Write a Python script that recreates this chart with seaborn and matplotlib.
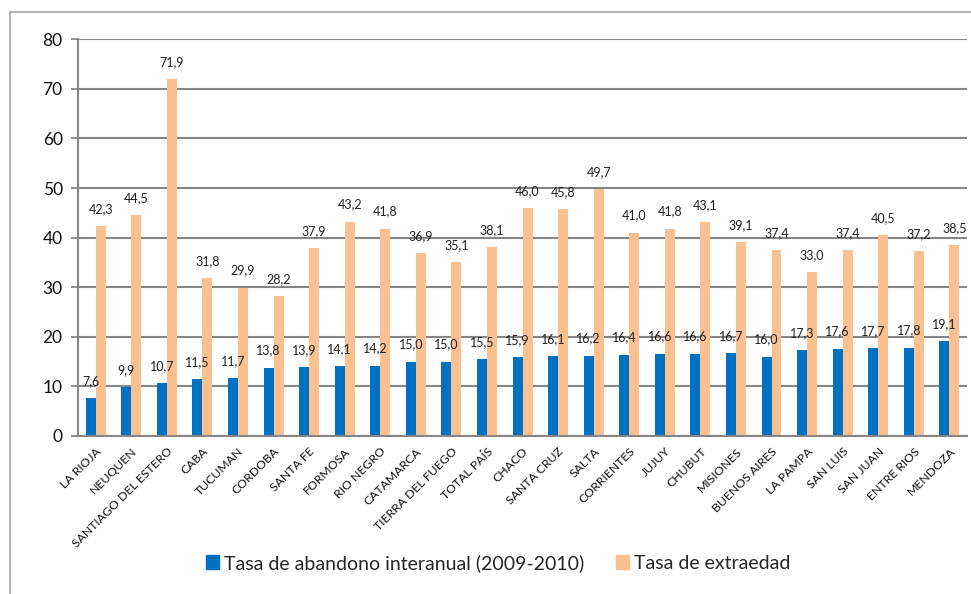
import matplotlib
matplotlib.use("Agg")
import matplotlib.pyplot as plt
from matplotlib.lines import Line2D
import seaborn as sns
import pandas as pd

provincias = [
    "LA RIOJA", "NEUQUEN", "SANTIAGO DEL ESTERO", "CABA", "TUCUMAN", "CORDOBA",
    "SANTA FE", "FORMOSA", "RIO NEGRO", "CATAMARCA", "TIERRA DEL FUEGO", "TOTAL PAÍS",
    "CHACO", "SANTA CRUZ", "SALTA", "CORRIENTES", "JUJUY", "CHUBUT", "MISIONES",
    "BUENOS AIRES", "LA PAMPA", "SAN LUIS", "SAN JUAN", "ENTRE RIOS", "MENDOZA",
]
abandono = [7.6, 9.9, 10.7, 11.5, 11.7, 13.8, 13.9, 14.1, 14.2, 15.0, 15.0, 15.5,
            15.9, 16.1, 16.2, 16.4, 16.6, 16.6, 16.7, 16.0, 17.3, 17.6, 17.7, 17.8, 19.1]
extraedad = [42.3, 44.5, 71.9, 31.8, 29.9, 28.2, 37.9, 43.2, 41.8, 36.9, 35.1, 38.1,
             46.0, 45.8, 49.7, 41.0, 41.8, 43.1, 39.1, 37.4, 33.0, 37.4, 40.5, 37.2, 38.5]
series = ["Tasa de abandono interanual (2009-2010)", "Tasa de extraedad"]
colores = ["#0070C0", "#FAC090"]
y_ticks = [0, 10, 20, 30, 40, 50, 60, 70, 80]

df = pd.DataFrame({
    "provincia": provincias * 2,
    "serie": [series[0]] * len(provincias) + [series[1]] * len(provincias),
    "valor": abandono + extraedad,
})

sns.set_theme(style="white")
plt.rcParams["font.family"] = ["Lato", "DejaVu Sans"]

fig = plt.figure(figsize=(9.71, 5.94), dpi=100)
ax = fig.add_axes([0.0803, 0.266, 0.9157, 0.668])

sns.barplot(data=df, x="provincia", y="valor", hue="serie", order=provincias,
            hue_order=series, palette=colores, width=0.56, gap=0, saturation=1,
            edgecolor="none", linewidth=0, ax=ax, legend=False)

def coma(v):
    return f"{v:.1f}".replace(".", ",")

for cont in ax.containers:
    vals = [r.get_height() for r in cont]
    ax.bar_label(cont, labels=[coma(v) for v in vals], padding=8, fontsize=9,
                 color="#222222")

ax.set_ylim(0, 80)
ax.set_xlim(-0.5, len(provincias) - 0.5)
ax.set_yticks(y_ticks)
ax.set_yticklabels([str(t) for t in y_ticks], fontsize=12.5, color="#111111")
ax.yaxis.grid(True, color="#868686", linewidth=1.5)
ax.set_axisbelow(True)
ax.set_xlabel("")
ax.set_ylabel("")

# category labels at centers, tick marks at category boundaries
ax.set_xticks(range(len(provincias)))
ax.set_xticklabels(provincias, rotation=45, ha="right", rotation_mode="anchor",
                   fontsize=8.8, color="#111111")
ax.tick_params(axis="x", which="major", length=0, pad=7)
ax.set_xticks([i - 0.5 for i in range(len(provincias) + 1)], minor=True)
ax.tick_params(axis="x", which="minor", length=5, width=1.3, color="#868686",
               direction="out")
ax.tick_params(axis="y", length=5, width=1.3, color="#868686", direction="out",
               left=True, pad=6)

for side in ["top", "right"]:
    ax.spines[side].set_visible(False)
for side in ["left", "bottom"]:
    ax.spines[side].set_color("#868686")
    ax.spines[side].set_linewidth(1.5)

# outer chart frame
fig.add_artist(Line2D([0.0108, 0.0108], [0.0, 0.979], transform=fig.transFigure,
                      color="#a6a6a6", linewidth=1.2))
fig.add_artist(Line2D([0.0108, 1.0], [0.979, 0.979], transform=fig.transFigure,
                      color="#a6a6a6", linewidth=1.2))

handles = [plt.Rectangle((0, 0), 1, 1, color=c) for c in colores]
fig.legend(handles, series, loc="center", bbox_to_anchor=(0.513, 0.052), ncol=2,
           frameon=False, fontsize=14, handlelength=0.7, handleheight=0.7,
           handletextpad=0.25, columnspacing=1.6)

fig.savefig("out.png", dpi=100, facecolor="white")
